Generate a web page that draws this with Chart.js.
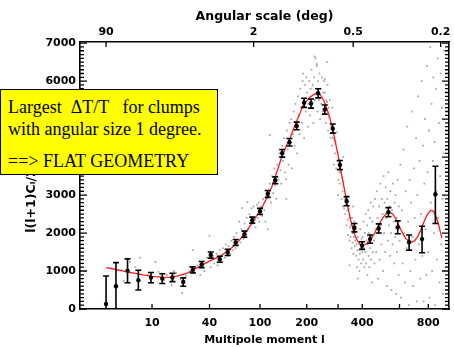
<!DOCTYPE html>
<html>
<head>
<meta charset="utf-8">
<script src="https://cdn.jsdelivr.net/npm/chart.js@4.4.1/dist/chart.umd.min.js"></script>
<style>
html, body { margin: 0; padding: 0; background: #fff; }
#wrap { position: relative; width: 454px; height: 347px; }
#note { position: absolute; left: 0; top: 89px; width: 216px; height: 84px; background: #ffff00;
        border: 1px solid #000; font-family: "Liberation Serif", "Times New Roman", serif;
        font-size: 18px; color: #000; white-space: pre; }
#note div { position: absolute; left: 7px; line-height: 18px; }
</style>
</head>
<body>
<div id="wrap">
  <canvas id="chart" width="454" height="347"></canvas>
  <div id="note"><div style="top:8px">Largest  ΔT/T   for clumps</div><div style="top:30px">with angular size 1 degree.</div><div style="top:62px">==&gt; FLAT GEOMETRY</div></div>
</div>
<script>
// binned spectrum (black points with error bars)
const binL  = [2, 3, 4.6, 6.6, 9.7, 13.3, 17.3, 22.5, 28, 34, 41, 49, 57, 66, 77, 88, 100, 113, 127, 141,
               157, 174, 193, 212, 233, 254, 281, 307, 333, 365, 399, 437, 481, 534, 589, 662, 753, 856];
const binV  = [130, 600, 1010, 760, 830, 800, 830, 710, 1030, 1170, 1420, 1310, 1490, 1750, 1970, 2340, 2570, 3030, 3390, 4100,
               4390, 4820, 5430, 5410, 5680, 5250, 4750, 3790, 2840, 2140, 1670, 1840, 2120, 2550, 2150, 1760, 1840, 3020];
const binLo = [0, 0, 690, 500, 690, 670, 720, 600, 950, 1090, 1340, 1230, 1410, 1670, 1890, 2260, 2490, 2940, 3300, 4000,
               4290, 4720, 5310, 5290, 5560, 5130, 4630, 3670, 2720, 2030, 1570, 1730, 2000, 2430, 1980, 1550, 1480, 2250];
const binHi = [870, 1220, 1320, 1020, 960, 930, 940, 820, 1110, 1250, 1500, 1390, 1570, 1830, 2050, 2420, 2650, 3120, 3480, 4200,
               4490, 4920, 5550, 5530, 5800, 5370, 4870, 3910, 2960, 2250, 1770, 1950, 2240, 2670, 2320, 1950, 2180, 3760];

// best fit model (red line)
const fitL = [2, 3, 4, 6, 8, 10, 13, 16, 20, 25, 30, 35, 40, 50, 60, 70, 80, 90, 100, 110,
              120, 130, 140, 150, 160, 170, 180, 190, 200, 210, 220, 230, 240, 250, 260, 270, 280, 290, 300, 310,
              320, 330, 340, 350, 360, 370, 380, 390, 400, 420, 440, 460, 480, 500, 520, 540, 560, 580, 600, 620,
              640, 660, 680, 700, 720, 740, 760, 780, 800, 820, 840, 860, 880, 900, 910];
const fitV = [1090, 1040, 1000, 940, 890, 860, 840, 835, 870, 950, 1070, 1170, 1260, 1400, 1580, 1800, 2050, 2350, 2580, 2880,
              3200, 3600, 4000, 4300, 4550, 4850, 5100, 5350, 5480, 5580, 5650, 5680, 5640, 5500, 5300, 5050, 4750, 4400, 4050, 3650,
              3300, 2950, 2620, 2330, 2080, 1900, 1780, 1700, 1670, 1710, 1830, 2000, 2200, 2380, 2500, 2550, 2500, 2350, 2170, 1990,
              1860, 1780, 1760, 1800, 1900, 2050, 2230, 2400, 2530, 2600, 2580, 2450, 2250, 2000, 1870];

// unbinned multipoles (grey dots)
const lowL = [4, 5, 5, 6, 7, 9, 10, 11, 12, 14, 15, 17, 18, 19, 21, 22, 24, 26, 28, 29];
const lowV = [740, 950, 1240, 1100, 1350, 900, 680, 1240, 980, 760, 900, 630, 1000, 950, 780, 420, 880, 1100, 1550, 950];

const riseL = [31, 33, 35, 36, 38, 40, 41, 43, 44, 46, 47, 49, 51, 52, 54, 55, 57, 58, 60, 61,
               63, 64, 66, 67, 69, 70, 72, 73, 74, 76, 77, 79, 80, 81, 83, 84, 86, 87, 89, 90,
               92, 93, 95, 96, 98, 99];
const riseV = [1150, 900, 1250, 1000, 1350, 1930, 1100, 1400, 1200, 1450, 1150, 1550, 1250, 1600, 1350, 1700, 1400, 1650, 1450, 1800,
               1550, 1900, 1600, 2000, 1700, 2300, 1750, 2100, 2660, 1850, 2250, 1950, 2400, 2820, 2100, 2500, 2200, 2650, 2250, 2700,
               2350, 2150, 2750, 2400, 2800, 2300];

const peakL = [101, 103, 105, 107, 109, 111, 113, 115, 117, 119, 121, 123, 125, 127, 129, 131, 133, 135, 137, 139,
               141, 143, 145, 147, 149, 151, 153, 155, 157, 159, 161, 163, 165, 167, 169, 171, 173, 175, 177, 179,
               181, 183, 185, 187, 189, 191, 193, 195, 197, 199, 201, 203, 205, 207, 209, 211, 213, 215, 217, 219,
               221, 223, 225, 227, 229, 231, 233, 235, 237, 239, 241, 243, 245, 247, 249];
const peakV = [2700, 2450, 2900, 2600, 2300, 3100, 2100, 2950, 3300, 2800, 3500, 3050, 3700, 3250, 2900, 3800, 3400, 4100, 3650, 3300,
               4300, 3900, 4500, 3600, 3420, 4700, 4200, 3800, 4900, 4400, 5000, 3700, 4600, 5200, 4300, 5400, 4800, 4100, 5600, 5100,
               4600, 5800, 5300, 4900, 6000, 5500, 4500, 5900, 5200, 6100, 5700, 4800, 5400, 6000, 5100, 5800, 6300, 5300, 5900, 4900,
               6100, 5500, 6600, 5700, 6400, 5200, 6000, 5500, 6200, 5000, 5800, 5400, 6100, 5200, 5700];

const descL = [251, 253, 255, 257, 259, 261, 263, 265, 267, 269, 271, 273, 275, 277, 279, 281, 283, 285, 287, 289,
               291, 293, 295, 297, 299, 301, 303, 305, 307, 309, 311, 313, 315, 317, 319, 321, 323, 325, 327, 329,
               331, 333, 335, 337, 339, 341, 343, 345, 347, 349, 351, 353, 355, 357, 359, 361, 363, 365, 367, 369,
               371, 373, 375, 377, 379, 381, 383, 385, 387, 389, 391, 393, 395, 397, 399];
const descV = [6000, 5200, 5700, 4900, 5500, 5450, 5900, 4700, 5300, 5050, 5500, 4500, 4800, 4300, 5300, 4500, 4700, 3800, 4450, 4100,
               4400, 3700, 4650, 3900, 4100, 3400, 3950, 3600, 3300, 3900, 3600, 2900, 3450, 3100, 2700, 3350, 2650, 2900, 2500, 2950,
               2800, 2200, 2600, 2350, 1950, 2650, 2400, 1800, 2150, 1900, 2200, 1600, 2400, 1750, 2000, 1450, 1900, 2300, 1650, 1800,
               2100, 1400, 1700, 1100, 1550, 1900, 1300, 1750, 1000, 1450, 2100, 1600, 1200, 1850, 1500];

const outL = [222, 229, 190, 254, 262, 300, 320, 345, 360, 380, 117, 150];
const outV = [6650, 6450, 6200, 6050, 6500, 3000, 4000, 1150, 2700, 800, 4580, 2900];

const troughL = [402, 404, 406, 408, 410, 412, 414, 416, 418, 420, 422, 424, 426, 428, 430, 432, 434, 436, 438, 440,
                 442, 444, 446, 448, 450, 453, 456, 459, 462, 465, 468, 471, 474, 477, 480, 483, 486, 489, 492, 495,
                 498, 501, 504, 507, 510, 513, 516, 519, 522, 525, 528, 531, 534, 537, 540, 543, 546, 549, 552, 555,
                 558, 561, 564, 567, 570, 573, 576, 579, 582, 585, 588, 591, 594, 597];
const troughV = [1900, 1300, 2300, 1600, 1100, 2000, 1500, 2500, 1200, 1800, 2200, 900, 1700, 2600, 1400, 2000, 1100, 2400, 1600, 2800,
                 1300, 1900, 700, 2300, 1500, 2700, 1800, 1200, 2900, 2100, 1500, 3100, 2400, 800, 2000, 2700, 1300, 3300, 2200, 1700,
                 2900, 2500, 1000, 3500, 2000, 2800, 1500, 3200, 2400, 600, 2900, 1800, 3600, 2200, 2700, 1400, 3100, 2000, 500, 2600,
                 1700, 3300, 2300, 1200, 2800, 1900, 3000, 400, 2400, 1500, 3400, 2100, 900, 2700];

const farL = [600, 605, 610, 615, 620, 625, 630, 635, 640, 645, 650, 655, 660, 665, 670, 675, 680, 685, 690, 695,
              700, 705, 710, 715, 720, 725, 730, 735, 740, 745, 750, 755, 760, 765, 770, 775, 780, 785, 790, 795,
              800, 805, 810, 815, 820, 825, 830, 835, 840, 845, 850, 855, 860, 865, 870, 875, 880, 885, 890, 895,
              900, 905, 910, 915, 920, 925, 930, 935, 940, 945, 950];
const farV = [1800, 3800, 300, 2600, 1200, 4200, 2000, 700, 3100, 1600, 4800, 2300, 100, 3400, 1000, 2800, 5200, 1900, 600, 3700,
              2400, 1300, 4500, 200, 3000, 5600, 1700, 3900, 800, 2500, 6000, 1400, 4300, 200, 3300, 5000, 2100, 900, 6400, 3600,
              1500, 4700, 300, 6900, 2800, 5400, 1000, 3900, 6100, 2000, 4400, 100, 5800, 3100, 1300, 6600, 2400, 4900, 700, 3500,
              6200, 1700, 5300, 2900, 400, 4100, 6800, 2200, 3700, 5700, 1100];

const grayL = [...lowL, ...riseL, ...peakL, ...descL, ...outL, ...troughL, ...farL];
const grayV = [...lowV, ...riseV, ...peakV, ...descV, ...outV, ...troughV, ...farV];

// axes
const xTickLabels = [10, 40, 100, 200, 400, 800];
const xTickMarks = [10, 40, 100, 200, 300, 400, 600, 800];
const topDeg = [90, 2, 0.5, 0.2];
const yTicks = [0, 1000, 2000, 3000, 4000, 5000, 6000, 7000];
const yMinorStep = 100;
const lMin = 0.535, lMax = 972, yMax = 7030;

// multipole axis is drawn as l^(1/4)
class QuarticScale extends Chart.LinearScale {
  getPixelForValue(v) {
    const a = Math.pow(this.min, 0.25), b = Math.pow(this.max, 0.25);
    return this.getPixelForDecimal((Math.pow(v, 0.25) - a) / (b - a));
  }
  getValueForPixel(p) {
    const a = Math.pow(this.min, 0.25), b = Math.pow(this.max, 0.25);
    return Math.pow(a + this.getDecimalForPixel(p) * (b - a), 4);
  }
}
QuarticScale.id = 'quartic';
QuarticScale.defaults = {};
Chart.register(QuarticScale);

const pts = (xs, ys) => xs.map((x, i) => ({ x: x, y: ys[i] }));

const errorBars = {
  id: 'errorBars',
  afterDatasetsDraw(chart) {
    const { ctx, scales } = chart;
    ctx.save();
    ctx.strokeStyle = '#000';
    ctx.lineWidth = 1.6;
    ctx.beginPath();
    binL.forEach((l, i) => {
      const px = scales.x.getPixelForValue(l);
      const top = scales.y.getPixelForValue(binHi[i]);
      const bot = scales.y.getPixelForValue(binLo[i]);
      ctx.moveTo(px, top); ctx.lineTo(px, bot);
      ctx.moveTo(px - 3, top); ctx.lineTo(px + 3, top);
      if (binLo[i] > 0) { ctx.moveTo(px - 3, bot); ctx.lineTo(px + 3, bot); }
    });
    ctx.stroke();
    ctx.restore();
  }
};

const frameTicks = {
  id: 'frameTicks',
  afterDraw(chart) {
    const { ctx, chartArea: a, scales } = chart;
    ctx.save();
    ctx.strokeStyle = '#000';
    ctx.lineWidth = 1.3;
    ctx.beginPath();
    for (let v = 0; v <= 7000; v += yMinorStep) {
      const py = scales.y.getPixelForValue(v);
      const len = v % 1000 === 0 ? 7 : 4;
      ctx.moveTo(a.left, py); ctx.lineTo(a.left + len, py);
      ctx.moveTo(a.right, py); ctx.lineTo(a.right - len, py);
    }
    xTickMarks.forEach(l => {
      const px = scales.x.getPixelForValue(l);
      ctx.moveTo(px, a.bottom); ctx.lineTo(px, a.bottom - 5);
    });
    topDeg.forEach(d => {
      const px = scales.xTop.getPixelForValue(180 / d);
      ctx.moveTo(px, a.top); ctx.lineTo(px, a.top + 5);
    });
    ctx.stroke();
    ctx.restore();
  }
};

const labelFont = { family: 'DejaVu Sans', weight: 'bold', size: 11 };
const border = { display: true, color: '#000', width: 1.6 };

new Chart('chart', {
  type: 'scatter',
  data: {
    datasets: [{
      label: 'binned',
      data: pts(binL, binV),
      pointRadius: 2.2,
      pointBackgroundColor: '#000',
      pointBorderWidth: 0
    }, {
      label: 'best fit',
      data: pts(fitL, fitV),
      showLine: true,
      borderColor: '#ff1a1a',
      borderWidth: 1.3,
      pointRadius: 0
    }, {
      label: 'multipoles',
      data: pts(grayL, grayV),
      pointStyle: 'rect',
      pointRadius: 1.25,
      pointBackgroundColor: '#a8a8a8',
      pointBorderWidth: 0
    }]
  },
  options: {
    responsive: false,
    animation: false,
    devicePixelRatio: 1,
    layout: { padding: 0, autoPadding: false },
    plugins: { legend: { display: false }, tooltip: { enabled: false } },
    scales: {
      x: {
        type: 'quartic', position: 'bottom', min: lMin, max: lMax,
        grid: { display: false, drawTicks: false }, border: border,
        afterBuildTicks: s => { s.ticks = xTickLabels.map(v => ({ value: v })); },
        afterFit: s => { s.height = 38; },
        ticks: { autoSkip: false, maxRotation: 0, padding: 8, color: '#000', font: labelFont,
                 callback: v => String(v) },
        title: { display: true, text: 'Multipole moment l', color: '#000', font: labelFont,
                 padding: { top: 0, bottom: 0 } }
      },
      xTop: {
        type: 'quartic', position: 'top', min: lMin, max: lMax,
        grid: { display: false, drawTicks: false }, border: border,
        afterBuildTicks: s => { s.ticks = topDeg.map(d => ({ value: 180 / d })); },
        afterFit: s => { s.height = 42; },
        ticks: { autoSkip: false, maxRotation: 0, padding: 3, color: '#000', font: labelFont,
                 callback: (v, i) => String(topDeg[i]) },
        title: { display: true, text: 'Angular scale (deg)', color: '#000',
                 font: { family: 'DejaVu Sans', weight: 'bold', size: 12.5 },
                 padding: { top: 9, bottom: 0 } }
      },
      y: {
        type: 'linear', position: 'left', min: 0, max: yMax,
        grid: { display: false, drawTicks: false }, border: border,
        afterBuildTicks: s => { s.ticks = yTicks.map(v => ({ value: v })); },
        afterFit: s => { s.width = 80; },
        ticks: { padding: 4, color: '#000', font: labelFont, callback: v => String(v) },
        title: { display: true, text: 'l(l+1)Cₗ/2π (μK²)', color: '#000',
                 font: { family: 'DejaVu Sans', weight: 'bold', size: 12.5 },
                 padding: { top: 24, bottom: 0 } }
      },
      y2: {
        type: 'linear', position: 'right', min: 0, max: yMax,
        grid: { display: false, drawTicks: false }, border: border,
        ticks: { display: false },
        afterFit: s => { s.width = 5; }
      }
    }
  },
  plugins: [errorBars, frameTicks]
});
</script>
</body>
</html>
